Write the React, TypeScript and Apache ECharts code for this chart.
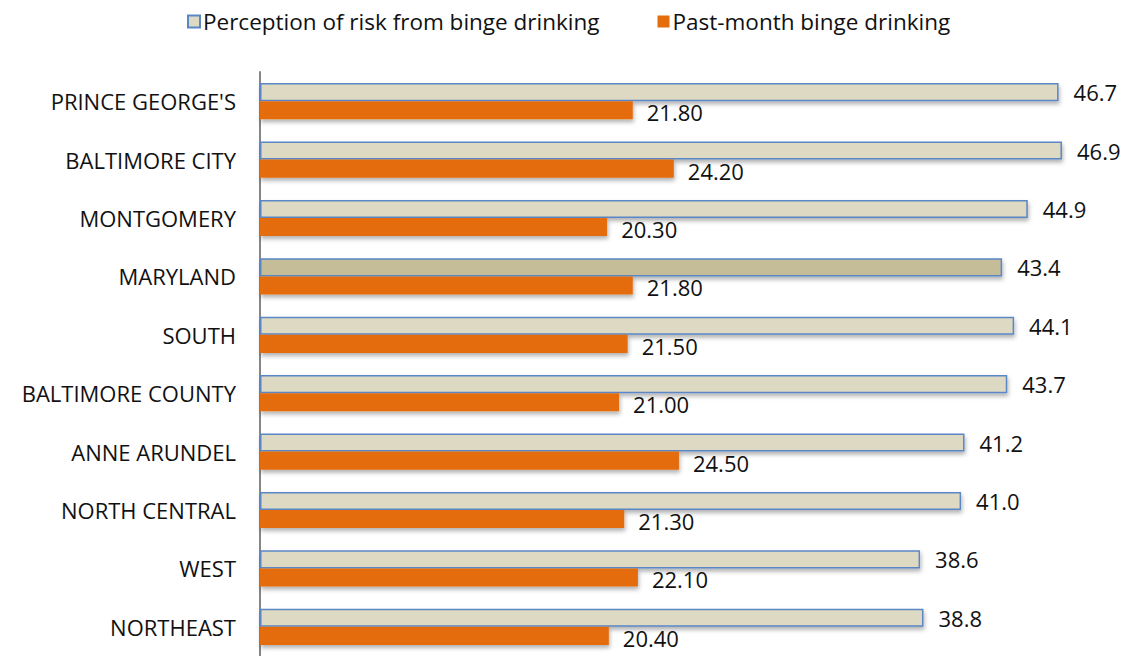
import React, { useEffect, useRef } from "react";
import * as echarts from "echarts";

const categories = [
  "PRINCE GEORGE'S",
  "BALTIMORE CITY",
  "MONTGOMERY",
  "MARYLAND",
  "SOUTH",
  "BALTIMORE COUNTY",
  "ANNE ARUNDEL",
  "NORTH CENTRAL",
  "WEST",
  "NORTHEAST",
];
const perceptionValues = [46.7, 46.9, 44.9, 43.4, 44.1, 43.7, 41.2, 41.0, 38.6, 38.8];
const bingeValues = [21.8, 24.2, 20.3, 21.8, 21.5, 21.0, 24.5, 21.3, 22.1, 20.4];
const seriesNames = ["Perception of risk from binge drinking", "Past-month binge drinking"];
const highlightCategory = "MARYLAND";

const FONT = "Open Sans";

export default function App() {
  const ref = useRef<HTMLDivElement>(null);
  useEffect(() => {
    const chart = echarts.init(ref.current!, null, { renderer: "svg" });
    const shadow = {
      shadowBlur: 4,
      shadowOffsetY: 3,
      shadowOffsetX: 1,
      shadowColor: "rgba(0,0,0,0.3)",
    };
    chart.setOption({
      animation: false,
      textStyle: { fontFamily: FONT },
      legend: {
        top: 5,
        left: 182,
        itemWidth: 12,
        itemHeight: 12,
        itemGap: 58,
        icon: "rect",
        textStyle: { fontSize: 22.5, color: "#111", fontFamily: FONT, padding: [0, 0, 0, -2] },
        data: seriesNames,
      },
      grid: { left: 260, right: 13, top: 72, bottom: 0, containLabel: false },
      xAxis: {
        type: "value",
        min: 0,
        max: 50,
        show: false,
        splitLine: { show: false },
      },
      yAxis: {
        type: "category",
        inverse: true,
        data: categories,
        axisLine: { show: true, lineStyle: { color: "#868686", width: 2 } },
        axisTick: { show: false },
        axisLabel: { fontSize: 22, color: "#111", margin: 24, fontFamily: FONT },
      },
      series: [
        {
          name: seriesNames[0],
          type: "bar",
          barGap: "0%",
          barCategoryGap: "38%",
          data: perceptionValues.map((v, i) =>
            categories[i] === highlightCategory
              ? { value: v, itemStyle: { color: "#c4bd97" } }
              : v
          ),
          itemStyle: {
            color: "#ddd9c3",
            borderColor: "#5b87c5",
            borderWidth: 1.5,
            ...shadow,
          },
          label: {
            show: true,
            position: "right",
            distance: 15,
            fontSize: 22,
            color: "#111",
            fontFamily: FONT,
            formatter: (p: any) => Number(p.value).toFixed(1),
          },
        },
        {
          name: seriesNames[1],
          type: "bar",
          data: bingeValues,
          itemStyle: { color: "#e46c0a", ...shadow },
          label: {
            show: true,
            position: "right",
            distance: 14,
            offset: [0, 2],
            fontSize: 22,
            color: "#111",
            fontFamily: FONT,
            formatter: (p: any) => Number(p.value).toFixed(2),
          },
        },
      ],
    });
    return () => chart.dispose();
  }, []);
  return (
    <div
      ref={ref}
      style={{ position: "absolute", left: 0, top: 0, width: 1128, height: 656, background: "#fff" }}
    />
  );
}
